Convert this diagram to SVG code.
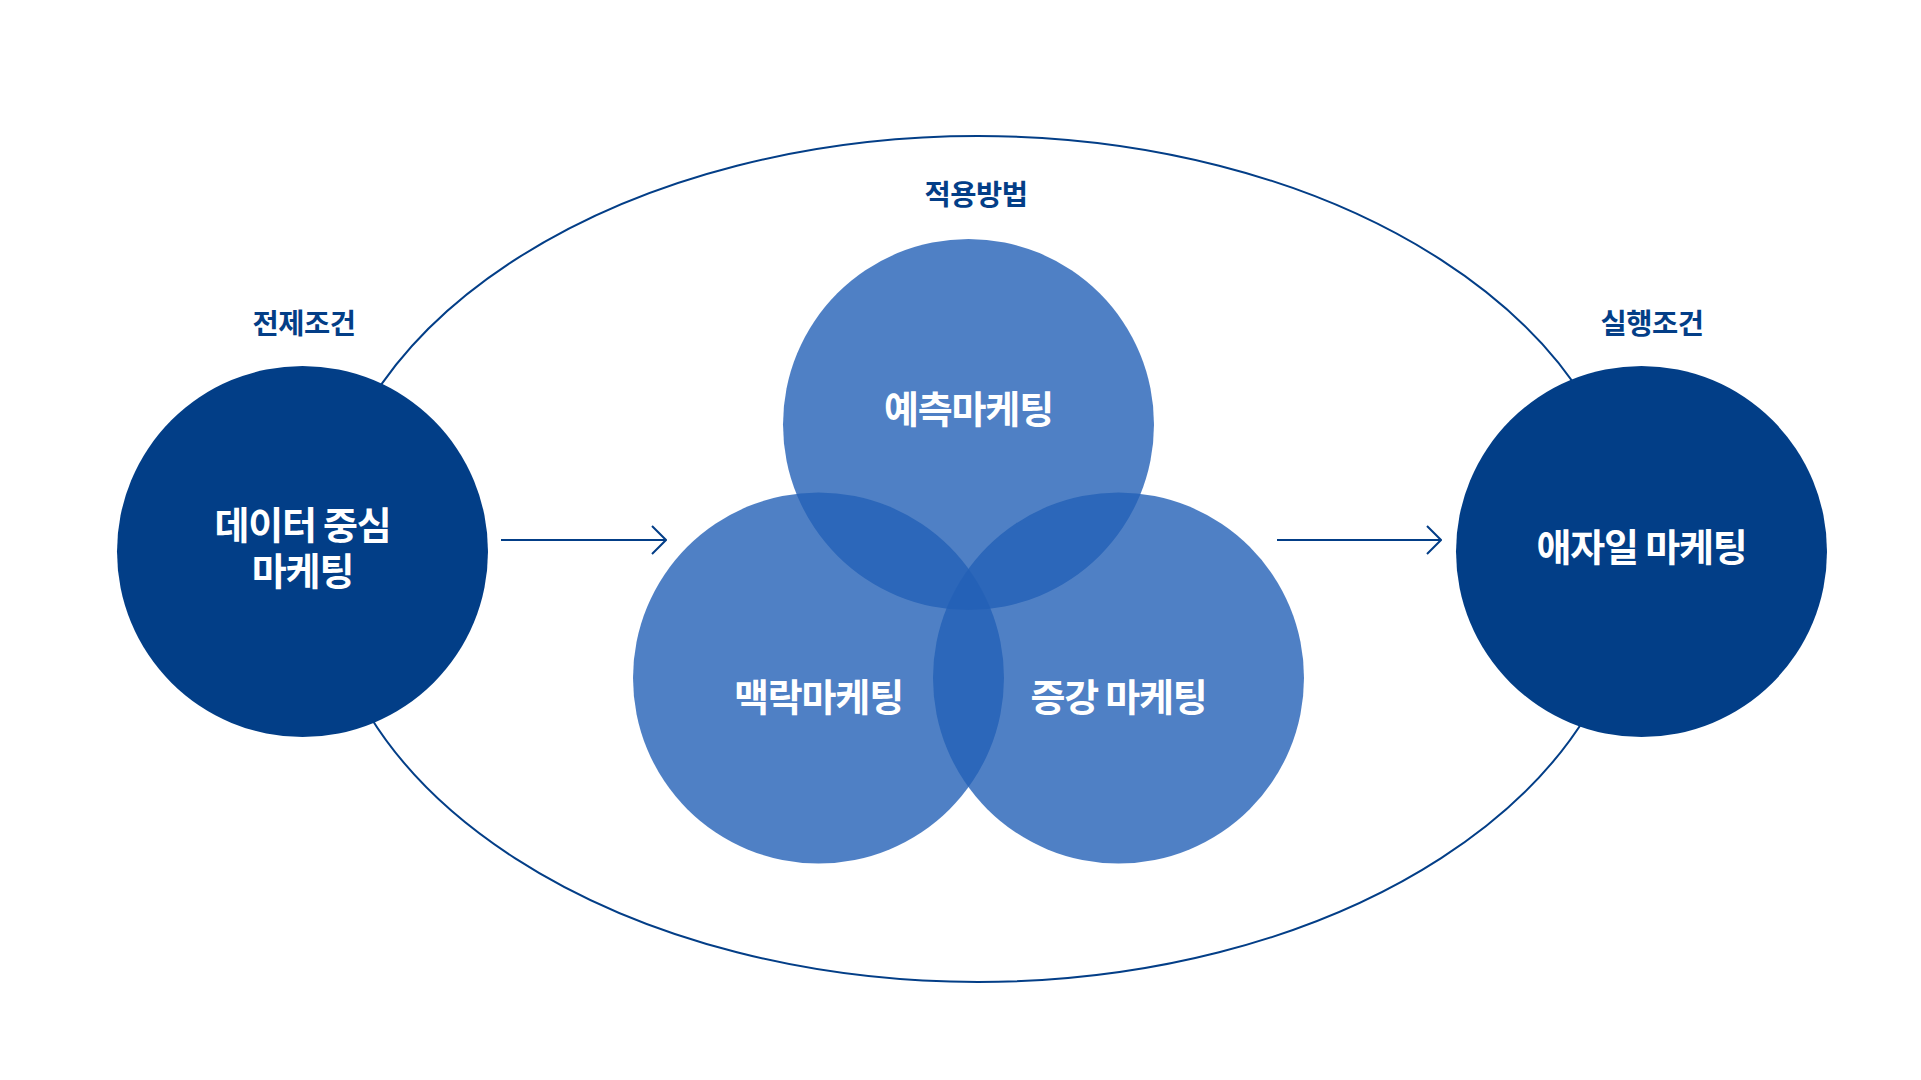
<svg xmlns="http://www.w3.org/2000/svg" width="1921" height="1080" viewBox="0 0 1921 1080">
  <defs>
    <marker id="chev" viewBox="0 0 16 30" refX="15" refY="15" markerWidth="16" markerHeight="30" markerUnits="userSpaceOnUse" orient="auto">
      <path d="M1,1 L15,15 L1,29" fill="none" stroke="#033E87" stroke-width="2"/>
    </marker>
  </defs>
  <style>
    .lbl { font-family: "Noto Sans CJK KR", "Noto Sans", sans-serif; font-weight: 700; font-size: 28.5px; fill: #033E87; text-anchor: middle; letter-spacing: -0.5px; }
    .ctext { font-family: "Noto Sans CJK KR", "Noto Sans", sans-serif; font-weight: 700; font-size: 38px; fill: #ffffff; text-anchor: middle; letter-spacing: -1.2px; }
    .dark { fill: #023E87; }
    .venn { fill: #2360B6; fill-opacity: 0.8; }
    .conn { fill: none; stroke: #033E87; stroke-width: 2; }
  </style>
  <rect width="1921" height="1080" fill="#ffffff"/>

  <g id="connectors">
    <ellipse cx="978" cy="559" rx="655" ry="423" class="conn"/>
    <line x1="501" y1="540" x2="666" y2="540" class="conn" marker-end="url(#chev)"/>
    <line x1="1277" y1="540" x2="1441" y2="540" class="conn" marker-end="url(#chev)"/>
  </g>

  <g id="label-method">
    <text x="976" y="205" class="lbl">적용방법</text>
  </g>
  <g id="label-precondition">
    <text x="304" y="334" class="lbl">전제조건</text>
  </g>
  <g id="label-execution">
    <text x="1652" y="334" class="lbl">실행조건</text>
  </g>

  <g id="node-data-centric">
    <circle cx="302.5" cy="551.5" r="185.5" class="dark"/>
    <text class="ctext"><tspan x="302.5" y="539">데이터 중심</tspan><tspan x="302.5" y="585">마케팅</tspan></text>
  </g>

  <g id="node-agile">
    <circle cx="1641.5" cy="551.5" r="185.5" class="dark"/>
    <text x="1641.5" y="561" class="ctext">애자일 마케팅</text>
  </g>

  <g id="node-predictive">
    <circle cx="968.5" cy="424.5" r="185.5" class="venn"/>
  </g>
  <g id="node-context">
    <circle cx="818.5" cy="678" r="185.5" class="venn"/>
  </g>
  <g id="node-augmented">
    <circle cx="1118.5" cy="678" r="185.5" class="venn"/>
  </g>
  <g id="venn-labels">
    <text x="968.5" y="423" class="ctext">예측마케팅</text>
    <text x="818.5" y="711" class="ctext">맥락마케팅</text>
    <text x="1118.5" y="711" class="ctext">증강 마케팅</text>
  </g>
</svg>
